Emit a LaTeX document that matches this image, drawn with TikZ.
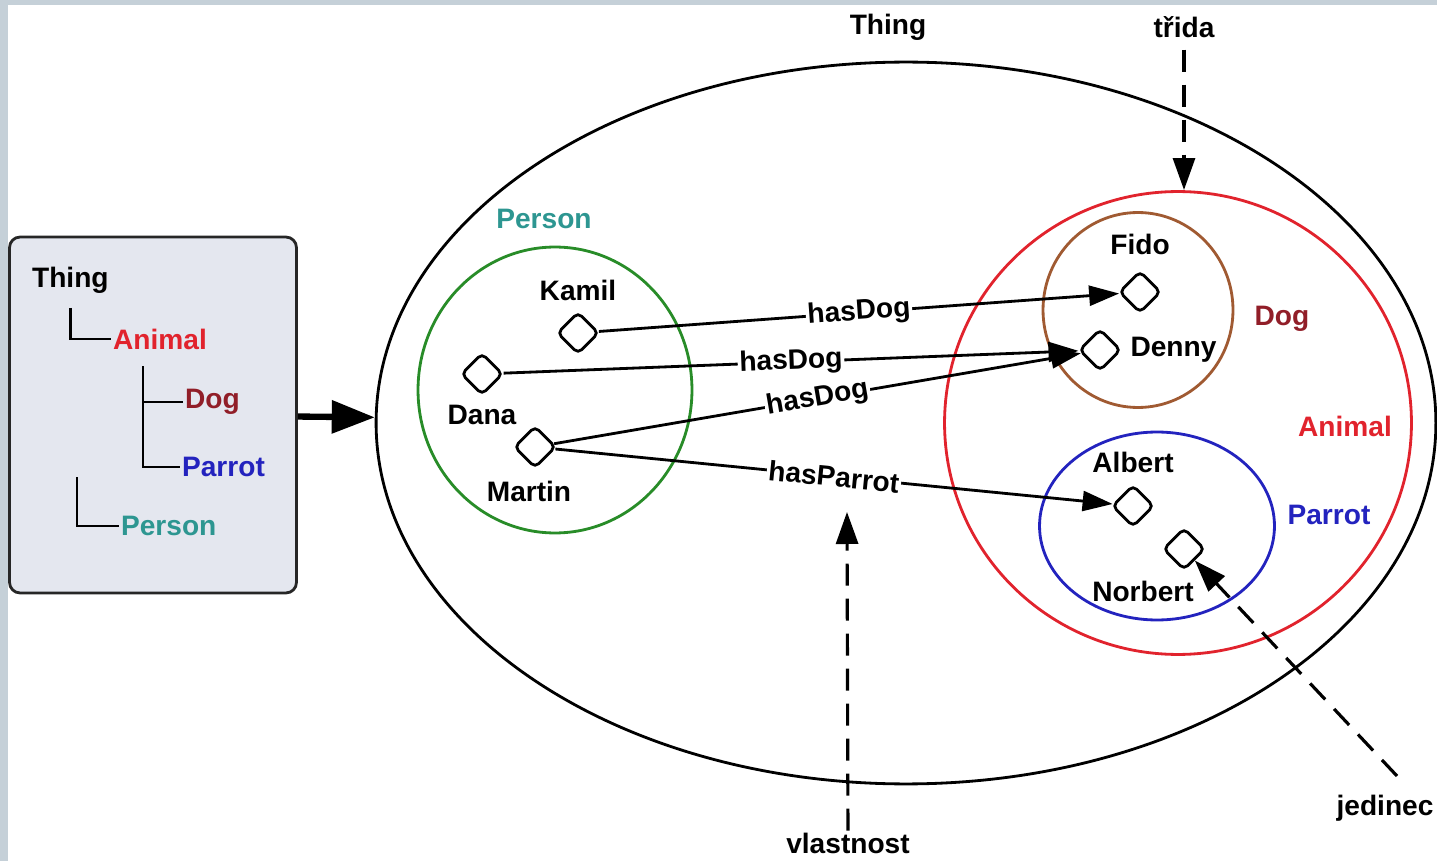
\documentclass[tikz,border=0pt]{standalone}
\usepackage{fontspec}
\setmainfont{Liberation Sans}
\usepackage{tikz}
\usetikzlibrary{shapes.geometric, arrows.meta, positioning, calc}
\usepackage{xcolor}
\definecolor{framegray}{RGB}{197,208,216}
\definecolor{boxgray}{RGB}{228,231,239}
\definecolor{animalred}{RGB}{225,35,45}
\definecolor{dogred}{RGB}{145,30,40}
\definecolor{dogbrown}{RGB}{160,90,50}
\definecolor{parrotblue}{RGB}{35,35,190}
\definecolor{personteal}{RGB}{45,150,145}
\definecolor{persongreen}{RGB}{40,140,40}

\begin{document}
\begin{tikzpicture}[
    x=0.02cm, y=-0.02cm,
    font=\fontsize{16}{19}\selectfont\bfseries,
    inner sep=1pt,
    set/.style={ellipse, draw, line width=1.6pt, inner sep=0pt},
    indiv/.style={diamond, draw, line width=1.6pt, rounded corners=3pt, minimum size=0.84cm, inner sep=0pt},
    arrow/.style={-{Triangle[length=6mm, width=4mm]}, line width=1.6pt},
    bigarrow/.style={-{Triangle[length=8.6mm, width=6.4mm]}, line width=3.6pt},
    rel/.style={fill=white, inner sep=1pt, sloped},
    hint/.style={-{Triangle[length=6.4mm, width=4.4mm]}, line width=1.8pt, dash pattern=on 4.4mm off 2.6mm},
    tree/.style={line width=1.7pt}
]
    \useasboundingbox (0,0) rectangle (1437,861);
    \fill[framegray] (0,0) rectangle (1437,5);
    \fill[framegray] (0,0) rectangle (8,861);

    % Class hierarchy
    \node[draw=black!85, fill=boxgray, rounded corners=6pt, line width=1.6pt, minimum width=5.74cm, minimum height=7.12cm] (hier) at (153,415) {};
    \node[anchor=west] (hthing) at (30,280) {Thing};
    \node[anchor=west, text=animalred] (hanimal) at (111,339) {Animal};
    \node[anchor=west, text=dogred] (hdog) at (183,402) {Dog};
    \node[anchor=west, text=parrotblue] (hparrot) at (180,467) {Parrot};
    \node[anchor=west, text=personteal] (hperson) at (119,526) {Person};
    \coordinate (hsplit) at ([xshift=0.64cm, yshift=-0.3cm]hanimal.south west);
    \coordinate (hroot) at (77,477);
    \draw[tree] ([yshift=-0.25cm]hthing.south) |- (hanimal.west);
    \draw[tree] (hsplit) |- (hdog.west);
    \draw[tree] (hsplit) |- (hparrot.west);
    \draw[tree] (hroot) |- (hperson.west);

    % Sets
    \node[set, minimum width=21.2cm, minimum height=14.44cm] (thing) at (906,423) {};
    \node[set, draw=animalred, minimum width=9.34cm, minimum height=9.26cm] (animal) at (1178,423) {};
    \node[set, draw=dogbrown, minimum width=3.8cm, minimum height=3.9cm] (dog) at (1138,310) {};
    \node[set, draw=parrotblue, minimum width=4.7cm, minimum height=3.76cm] (parrot) at (1157,526) {};
    \node[set, draw=persongreen, minimum width=5.48cm, minimum height=5.72cm] (person) at (555,390) {};

    \node (thingtxt) at (888,27) {Thing};
    \node[text=personteal] (persontxt) at (544,219) {Person};
    \node[text=dogred] (dogtxt) at (1282,319) {Dog};
    \node[text=animalred] (animaltxt) at (1345,426) {Animal};
    \node[text=parrotblue] (parrottxt) at (1329,515) {Parrot};

    % Individuals
    \node[indiv] (kamil) at (578,333) {};
    \node[indiv] (dana) at (482,374) {};
    \node[indiv] (martin) at (535,447) {};
    \node[indiv] (fido) at (1140,292) {};
    \node[indiv] (denny) at (1100,350) {};
    \node[indiv] (albert) at (1133,506) {};
    \node[indiv] (norbert) at (1184,549) {};
    \node[above=0.16cm of kamil] (kamiltxt) {Kamil};
    \node[below=0.14cm of dana] (danatxt) {Dana};
    \node[below=0.2cm of martin, xshift=-0.12cm] (martintxt) {Martin};
    \node[above=0.26cm of fido] (fidotxt) {Fido};
    \node[right=0.12cm of denny] (dennytxt) {Denny};
    \node[above=0.18cm of albert] (alberttxt) {Albert};
    \node[below=0.16cm of norbert, xshift=-0.82cm] (norberttxt) {Norbert};

    % Properties
    \draw[arrow] (kamil) -- node[rel] {hasDog} (fido);
    \draw[arrow] (dana) -- node[rel] {hasDog} (denny);
    \draw[arrow] (martin) -- node[rel] {hasDog} (denny);
    \draw[arrow] (martin) -- node[rel] {hasParrot} (albert);

    \draw[bigarrow] (hier) -- (thing);

    % Callouts
    \node (trida) at (1184,27) {třida};
    \node (vlastnost) at (848,843) {vlastnost};
    \node (jedinec) at (1385,808) {jedinec};
    \coordinate (tridatip) at (1184,190);
    \coordinate (vlasttip) at (847,512);
    \coordinate (jedstart) at (1397,776);
    \draw[hint, shorten <=0.2cm] (trida) -- (tridatip);
    \draw[hint] (vlastnost) -- (vlasttip);
    \draw[hint] (jedstart) -- (norbert);
\end{tikzpicture}
\end{document}
